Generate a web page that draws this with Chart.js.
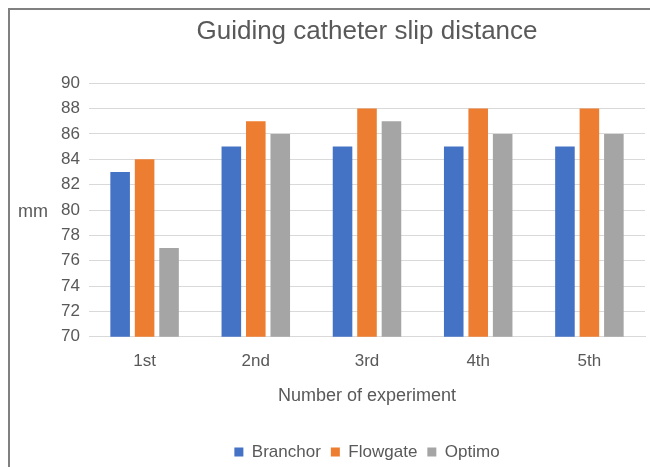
<!DOCTYPE html>
<html>
<head>
<meta charset="utf-8">
<script src="https://cdn.jsdelivr.net/npm/chart.js@4"></script>
<style>
  html, body { margin: 0; padding: 0; background: #fff; overflow: hidden; width: 650px; height: 467px; }
  #wrap { position: absolute; left: 8px; top: 8px; width: 714px; height: 462px; border-left: 2px solid #808080; border-top: 2px solid #808080; }
  canvas { display: block; }
</style>
</head>
<body>
<div id="wrap"><canvas id="c" width="714" height="462"></canvas></div>
<script>
const categories = ["1st", "2nd", "3rd", "4th", "5th"];
const branchor = [83, 85, 85, 85, 85];
const flowgate = [84, 87, 88, 88, 88];
const optimo = [77, 86, 87, 86, 86];
const seriesNames = ["Branchor", "Flowgate", "Optimo"];
const seriesColors = ["#4472C4", "#ED7D31", "#A5A5A5"];
const titleText = "Guiding catheter slip distance";
const xTitle = "Number of experiment";
const yTitle = "mm";

const textColor = "#595959";
const font = "'Liberation Sans', Arial, sans-serif";

const yLabelPlugin = {
  id: 'yLabel',
  afterDraw(chart) {
    const ctx = chart.ctx;
    const area = chart.chartArea;
    ctx.save();
    ctx.fillStyle = textColor;
    ctx.font = "18px " + font;
    ctx.textAlign = "center";
    ctx.textBaseline = "middle";
    ctx.fillText(yTitle, 23, (area.top + area.bottom) / 2 + 2);
    ctx.restore();
  }
};

new Chart(document.getElementById('c'), {
  type: 'bar',
  data: {
    labels: categories,
    datasets: [branchor, flowgate, optimo].map((d, i) => ({
      label: seriesNames[i],
      data: d,
      backgroundColor: seriesColors[i],
      borderWidth: 0,
      categoryPercentage: 0.66,
      barPercentage: 0.8
    }))
  },
  options: {
    responsive: false,
    animation: false,
    devicePixelRatio: 1,
    layout: { padding: { left: 0, right: 0, top: 0, bottom: 1.5 } },
    plugins: {
      title: {
        display: true,
        text: titleText,
        color: textColor,
        font: { family: font, size: 26, weight: 'normal' },
        padding: { top: 6, bottom: 36 }
      },
      legend: {
        position: 'bottom',
        labels: {
          color: textColor,
          font: { family: font, size: 17 },
          boxWidth: 9,
          boxHeight: 9,
          padding: 10
        }
      },
      tooltip: { enabled: false }
    },
    scales: {
      x: {
        grid: { display: false, drawTicks: false },
        border: { color: '#d9d9d9' },
        ticks: { color: textColor, font: { family: font, size: 17 }, padding: 14 },
        title: {
          display: true,
          text: xTitle,
          color: textColor,
          font: { family: font, size: 18 },
          padding: { top: 0, bottom: 26.7 }
        }
      },
      y: {
        min: 70,
        max: 90,
        ticks: { stepSize: 2, color: textColor, font: { family: font, size: 17 }, padding: 9 },
        grid: { color: '#d9d9d9', drawTicks: false },
        border: { display: false },
        afterFit(s) { s.width = 79; }
      },
      y1: {
        position: 'right',
        display: true,
        grid: { display: false, drawTicks: false },
        border: { display: false },
        ticks: { display: false },
        afterFit(s) { s.width = 79; }
      }
    }
  },
  plugins: [yLabelPlugin]
});
</script>
</body>
</html>
